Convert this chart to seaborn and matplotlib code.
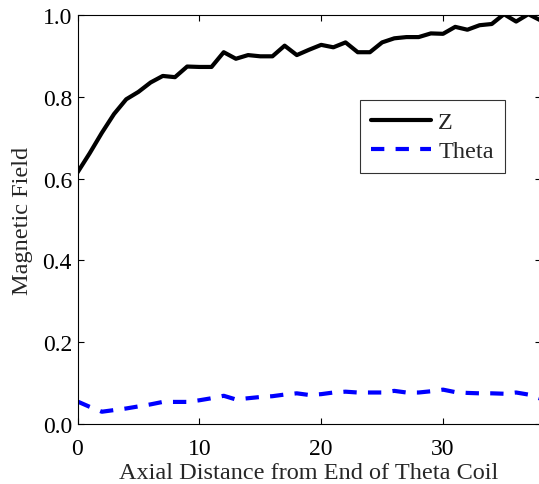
import numpy as np
import pandas as pd
import matplotlib
matplotlib.use("Agg")
import matplotlib.pyplot as plt
import seaborn as sns

x_vals = list(range(0, 39))
z_vals = [0.615, 0.662, 0.712, 0.758, 0.794, 0.812, 0.835, 0.851, 0.848, 0.874,
          0.873, 0.873, 0.909, 0.893, 0.902, 0.899, 0.899, 0.925, 0.902, 0.915,
          0.927, 0.921, 0.933, 0.909, 0.909, 0.933, 0.943, 0.946, 0.946, 0.955,
          0.954, 0.971, 0.964, 0.975, 0.978, 1.002, 0.984, 1.002, 0.987]
theta_vals = [0.055, 0.042, 0.030, 0.034, 0.038, 0.043, 0.048, 0.054, 0.054, 0.054,
              0.058, 0.063, 0.069, 0.060, 0.063, 0.066, 0.068, 0.072, 0.075, 0.071,
              0.073, 0.077, 0.079, 0.077, 0.077, 0.077, 0.081, 0.077, 0.077, 0.080,
              0.084, 0.078, 0.076, 0.075, 0.075, 0.074, 0.077, 0.072, 0.062]
series_names = ["Z", "Theta"]
xlabel = "Axial Distance from End of Theta Coil"
ylabel = "Magnetic Field"

df = pd.DataFrame({
    "x": x_vals * 2,
    "value": z_vals + theta_vals,
    "series": [series_names[0]] * len(x_vals) + [series_names[1]] * len(x_vals),
})

sns.set_style("ticks")
plt.rcParams["font.family"] = ["Liberation Serif", "DejaVu Serif"]

fig = plt.figure(figsize=(5.39, 4.85), dpi=100)
ax = fig.add_axes([77.5 / 539, 60 / 485, 463 / 539, 409 / 485])

sns.lineplot(data=df, x="x", y="value", hue="series", style="series",
             palette={"Z": "black", "Theta": "#0000ff"},
             dashes={"Z": "", "Theta": (3.2, 2.7)},
             linewidth=3, ax=ax, legend=True)

ax.set_xlim(0, 38)
ax.set_ylim(0, 1.0)
ax.set_xticks([0, 10, 20, 30])
ax.set_yticks([0.0, 0.2, 0.4, 0.6, 0.8, 1.0])
ax.set_yticklabels(["0.0", "0.2", "0.4", "0.6", "0.8", "1.0"])
ax.tick_params(direction="in", top=True, right=True, length=4, width=0.8,
               labelsize=17, colors="black")
ax.tick_params(axis="x", pad=10)
ax.tick_params(axis="y", pad=4)
for s in ax.spines.values():
    s.set_linewidth(0.8)
    s.set_color("black")
ax.set_xlabel(xlabel, fontsize=17.5, labelpad=2)
ax.set_ylabel(ylabel, fontsize=17.5, labelpad=7)

handles, labels = ax.get_legend_handles_labels()
leg = ax.legend(handles, labels, loc="upper left", bbox_to_anchor=(0.611, 0.792),
                borderaxespad=0, fontsize=17.5, frameon=True, fancybox=False,
                edgecolor="black", handlelength=2.45, handletextpad=0.3,
                borderpad=0.45, labelspacing=0.3)
leg.get_frame().set_linewidth(0.8)

fig.savefig("out.png", dpi=100)
